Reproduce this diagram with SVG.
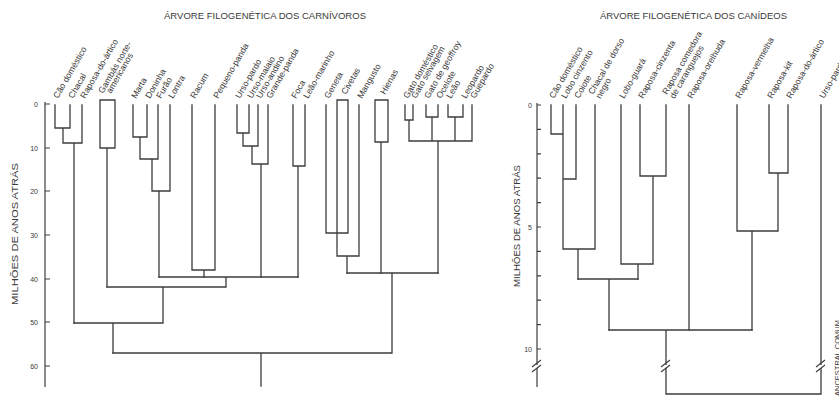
<svg xmlns="http://www.w3.org/2000/svg" width="839" height="396" viewBox="0 0 839 396">
  <style>
    .bg { fill: #ffffff; }
    .ln { fill: none; stroke: #3c3c3c; stroke-width: 1.3; stroke-linecap: square; }
    .ax { fill: none; stroke: #3c3c3c; stroke-width: 1.2; }
    .brk { fill: none; stroke: #3c3c3c; stroke-width: 1.1; }
    .gap { fill: #ffffff; stroke: none; }
    .t { font-family: "Liberation Sans", Arial, sans-serif; fill: #3a3a3a; }
    .title { font-size: 9px; }
    .lb { font-size: 8.7px; }
    .tk { font-size: 7px; text-anchor: end; }
    .yl { font-size: 8.5px; text-anchor: middle; }
  </style>

  <rect class="bg" x="0" y="0" width="839" height="396"/>

  <!-- ===================== Carnivore tree ===================== -->
  <g id="carnivores-title">
    <text class="t title" x="164" y="18.5" textLength="202" lengthAdjust="spacingAndGlyphs">ÁRVORE FILOGENÉTICA DOS CARNÍVOROS</text>
  </g>

  <g id="carnivores-axis">
    <path class="ax" d="M45,102 V387"/>
    <path class="ax" d="M45,104 H50 M45,148 H50 M45,191 H50 M45,235 H50 M45,279 H50 M45,322 H50 M45,366 H50"/>
    <text class="t tk" x="38" y="106.5">0</text>
    <text class="t tk" x="38" y="150.5">10</text>
    <text class="t tk" x="38" y="193.5">20</text>
    <text class="t tk" x="38" y="237.5">30</text>
    <text class="t tk" x="38" y="281.5">40</text>
    <text class="t tk" x="38" y="324.5">50</text>
    <text class="t tk" x="38" y="368.5">60</text>
    <text class="t yl" transform="translate(18,234) rotate(-90)" textLength="142" lengthAdjust="spacingAndGlyphs">MILHÕES DE ANOS ATRÁS</text>
  </g>

  <g id="carnivore-labels">
    <g id="leaf-cao-domestico"><text class="t lb" transform="translate(58,99) rotate(-60)">Cão doméstico</text></g>
    <g id="leaf-chacal"><text class="t lb" transform="translate(73,99) rotate(-60)">Chacal</text></g>
    <g id="leaf-raposa-do-artico"><text class="t lb" transform="translate(85,99) rotate(-60)">Raposa-do-ártico</text></g>
    <g id="leaf-gambas">
      <text class="t lb" transform="translate(103,94) rotate(-60)">Gambás norte-</text>
      <text class="t lb" transform="translate(111,94) rotate(-60)">americanos</text>
    </g>
    <g id="leaf-marta"><text class="t lb" transform="translate(136,99) rotate(-60)">Marta</text></g>
    <g id="leaf-doninha"><text class="t lb" transform="translate(150,99) rotate(-60)">Doninha</text></g>
    <g id="leaf-furao"><text class="t lb" transform="translate(161,99) rotate(-60)">Furão</text></g>
    <g id="leaf-lontra"><text class="t lb" transform="translate(173,99) rotate(-60)">Lontra</text></g>
    <g id="leaf-racum"><text class="t lb" transform="translate(195,99) rotate(-60)">Racum</text></g>
    <g id="leaf-pequeno-panda"><text class="t lb" transform="translate(218,99) rotate(-60)">Pequeno-panda</text></g>
    <g id="leaf-urso-pardo"><text class="t lb" transform="translate(240,99) rotate(-60)">Urso-pardo</text></g>
    <g id="leaf-urso-malaio"><text class="t lb" transform="translate(252,99) rotate(-60)">Urso-malaio</text></g>
    <g id="leaf-urso-andino"><text class="t lb" transform="translate(261,99) rotate(-60)">Urso-andino</text></g>
    <g id="leaf-grande-panda"><text class="t lb" transform="translate(271,99) rotate(-60)">Grande-panda</text></g>
    <g id="leaf-foca"><text class="t lb" transform="translate(296,99) rotate(-60)">Foca</text></g>
    <g id="leaf-leao-marinho"><text class="t lb" transform="translate(308,99) rotate(-60)">Leão-marinho</text></g>
    <g id="leaf-geneta"><text class="t lb" transform="translate(329,99) rotate(-60)">Geneta</text></g>
    <g id="leaf-civetas"><text class="t lb" transform="translate(346,95) rotate(-60)">Civetas</text></g>
    <g id="leaf-mangusto"><text class="t lb" transform="translate(362,99) rotate(-60)">Mangusto</text></g>
    <g id="leaf-hienas"><text class="t lb" transform="translate(385,95) rotate(-60)">Hienas</text></g>
    <g id="leaf-gato-domestico"><text class="t lb" transform="translate(408,99) rotate(-60)">Gato doméstico</text></g>
    <g id="leaf-gato-selvagem"><text class="t lb" transform="translate(416,99) rotate(-60)">Gato selvagem</text></g>
    <g id="leaf-gato-de-geoffroy"><text class="t lb" transform="translate(429,99) rotate(-60)">Gato de geoffroy</text></g>
    <g id="leaf-ocelote"><text class="t lb" transform="translate(441,99) rotate(-60)">Ocelote</text></g>
    <g id="leaf-leao"><text class="t lb" transform="translate(451,99) rotate(-60)">Leão</text></g>
    <g id="leaf-leopardo"><text class="t lb" transform="translate(466,99) rotate(-60)">Leopardo</text></g>
    <g id="leaf-guepardo"><text class="t lb" transform="translate(475,99) rotate(-60)">Guepardo</text></g>
  </g>

  <g id="carnivore-connectors">
    <!-- canids -->
    <path class="ln" d="M55,105 V128 M70,105 V128 M55,128 H70 M63,128 V143 M82,105 V143 M63,143 H82 M74,143 V323"/>
    <!-- skunks -->
    <path class="ln" d="M100,100 H115 V148 H100 Z M107,148 V287"/>
    <!-- mustelids -->
    <path class="ln" d="M133,105 V137 M147,105 V137 M133,137 H147 M140,137 V159 M158,105 V159 M140,159 H158 M152,159 V191 M170,105 V191 M152,191 H170 M159,191 V277"/>
    <!-- raccoon and lesser panda -->
    <path class="ln" d="M192,105 V270 M215,105 V270 M192,270 H215 M204,270 V277"/>
    <!-- bears -->
    <path class="ln" d="M237,105 V133 M249,105 V133 M237,133 H249 M243,133 V146 M258,105 V146 M243,146 H258 M252,146 V164 M268,105 V164 M252,164 H268 M261,164 V277"/>
    <!-- pinnipeds -->
    <path class="ln" d="M293,105 V166 M305,105 V166 M293,166 H305 M298,166 V277"/>
    <!-- caniform joins -->
    <path class="ln" d="M159,277 H298 M226,277 V287 M107,287 H226 M163,287 V323 M74,323 H163 M113,323 V353"/>
    <!-- genets, civets, mongoose -->
    <path class="ln" d="M326,105 V233 M337,100 V256 M348,100 V233 M337,100 H348 M326,233 H348 M359,105 V256 M337,256 H359 M347,256 V273"/>
    <!-- hyenas -->
    <path class="ln" d="M375,100 H388 V142 H375 Z M381,142 V273"/>
    <!-- cats -->
    <path class="ln" d="M405,105 V120 M413,105 V120 M405,120 H413 M426,105 V117 M438,105 V117 M426,117 H438 M448,105 V117 M463,105 V117 M448,117 H463 M409,120 V141 M432,117 V141 M455,117 V141 M472,105 V141 M409,141 H472 M438,141 V273"/>
    <!-- feliform joins and root -->
    <path class="ln" d="M347,273 H438 M392,273 V353 M113,353 H392 M261,353 V386"/>
  </g>

  <!-- ===================== Canid tree ===================== -->
  <g id="canids-title">
    <text class="t title" x="600" y="18.5" textLength="187" lengthAdjust="spacingAndGlyphs">ÁRVORE FILOGENÉTICA DOS CANÍDEOS</text>
  </g>

  <g id="canids-axis">
    <path class="ax" d="M537,103 V387"/>
    <path class="ax" d="M537,105 H541 M537,129.4 H541 M537,153.8 H541 M537,178.2 H541 M537,202.6 H541 M537,227 H541 M537,251.4 H541 M537,275.8 H541 M537,300.2 H541 M537,324.6 H541 M537,349 H541"/>
    <text class="t tk" x="532" y="107.5">0</text>
    <text class="t tk" x="532" y="229.5">5</text>
    <text class="t tk" x="532" y="351.5">10</text>
    <rect class="gap" x="533" y="365" width="8" height="3"/>
    <path class="brk" d="M532,367 L541,360 M532,372 L541,365"/>
    <text class="t yl" transform="translate(520,226) rotate(-90)" textLength="122" lengthAdjust="spacingAndGlyphs">MILHÕES DE ANOS ATRÁS</text>
  </g>

  <g id="canid-labels">
    <g id="c-leaf-cao-domestico"><text class="t lb" transform="translate(554,99) rotate(-60)">Cão doméstico</text></g>
    <g id="c-leaf-lobo-cinzento"><text class="t lb" transform="translate(566,99) rotate(-60)">Lobo cinzento</text></g>
    <g id="c-leaf-coiote"><text class="t lb" transform="translate(579,99) rotate(-60)">Coiote</text></g>
    <g id="c-leaf-chacal">
      <text class="t lb" transform="translate(593,95) rotate(-60)">Chacal de dorso</text>
      <text class="t lb" transform="translate(600.4,99.2) rotate(-60)">negro</text>
    </g>
    <g id="c-leaf-lobo-guara"><text class="t lb" transform="translate(624,99) rotate(-60)">Lobo-guará</text></g>
    <g id="c-leaf-raposa-cinzenta"><text class="t lb" transform="translate(643,99) rotate(-60)">Raposa-cinzenta</text></g>
    <g id="c-leaf-raposa-comedora">
      <text class="t lb" transform="translate(667,95) rotate(-60)">Raposa comedora</text>
      <text class="t lb" transform="translate(674.4,99.2) rotate(-60)">de caranguejos</text>
    </g>
    <g id="c-leaf-raposa-orelhuda"><text class="t lb" transform="translate(692,99) rotate(-60)">Raposa-orelhuda</text></g>
    <g id="c-leaf-raposa-vermelha"><text class="t lb" transform="translate(740,99) rotate(-60)">Raposa-vermelha</text></g>
    <g id="c-leaf-raposa-kit"><text class="t lb" transform="translate(772,99) rotate(-60)">Raposa-kit</text></g>
    <g id="c-leaf-raposa-do-artico"><text class="t lb" transform="translate(791,99) rotate(-60)">Raposa-do-ártico</text></g>
    <g id="c-leaf-urso-pardo"><text class="t lb" transform="translate(824,99) rotate(-60)">Urso-pardo</text></g>
    <g id="c-root-note"><text class="t" font-size="7.5" transform="translate(839.5,396) rotate(-90)">ANCESTRAL COMUM</text></g>
  </g>

  <g id="canid-connectors">
    <!-- wolf-like canids -->
    <path class="ln" d="M551,105 V134 M563,105 V249 M551,134 H563 M576,105 V179 M563,179 H576 M595,105 V249 M563,249 H595 M578,249 V279"/>
    <!-- South American canids -->
    <path class="ln" d="M621,105 V264 M640,105 V176 M666,105 V176 M640,176 H666 M653,176 V264 M621,264 H653 M638,264 V279"/>
    <path class="ln" d="M578,279 H638 M609,279 V330"/>
    <!-- bat-eared fox -->
    <path class="ln" d="M689,105 V330"/>
    <!-- foxes -->
    <path class="ln" d="M737,105 V231 M769,105 V173 M788,105 V173 M769,173 H788 M778,173 V231 M737,231 H778 M752,231 V330"/>
    <!-- root with broken stems -->
    <path class="ln" d="M609,330 H752 M666,330 V394 M821,105 V394 M666,394 H821"/>
    <rect class="gap" x="662" y="365" width="8" height="3"/>
    <path class="brk" d="M661,367 L670,360 M661,372 L670,365"/>
    <rect class="gap" x="817" y="365" width="8" height="3"/>
    <path class="brk" d="M816,367 L825,360 M816,372 L825,365"/>
  </g>
</svg>
